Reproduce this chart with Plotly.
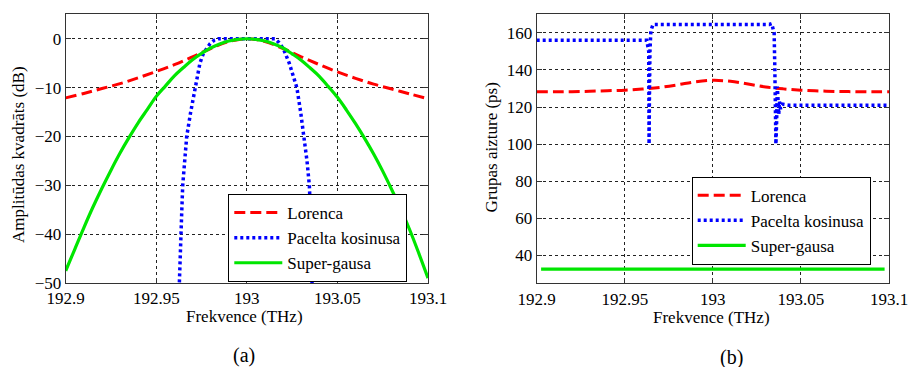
import plotly.graph_objects as go

W, H = 911, 367

# ---------------- data (a) ----------------
lor_x = [192.90, 192.91, 192.92, 192.93, 192.94, 192.95, 192.96, 192.97, 192.98, 192.99,
         193.00, 193.01, 193.02, 193.03, 193.04, 193.05, 193.06, 193.07, 193.08, 193.09, 193.10]
lor_y = [-12.1, -11.2, -10.2, -9.2, -8.0, -6.7, -5.3, -3.7, -2.0, -0.6,
         0.0, -0.6, -2.0, -3.7, -5.3, -6.8, -8.1, -9.3, -10.3, -11.3, -12.3]

rc_x = [192.9622, 192.9630, 192.9636, 192.9641, 192.9646, 192.9656, 192.9668, 192.9690, 192.9714,
        192.9741, 192.9760, 192.9778, 192.9797, 192.9820, 192.9842, 193.0000, 193.0155,
        193.0178, 193.0201, 193.0234, 193.0276, 193.0297, 193.0316, 193.0332, 193.0345,
        193.0352, 193.0356, 193.0360, 193.0362]
rc_y = [-56, -45, -40, -35, -30, -25, -20, -15, -10,
        -5, -3, -2, -1, -0.3, 0.0, 0.0, 0.0,
        -0.8, -2, -5, -10, -15, -20, -25, -30,
        -35, -40, -50, -56]

sg_x = [192.900, 192.905, 192.910, 192.915, 192.920, 192.925, 192.930, 192.935, 192.940, 192.945,
        192.950, 192.955, 192.960, 192.965, 192.970, 192.975, 192.980, 192.985, 192.990, 192.995,
        193.000, 193.005, 193.010, 193.015, 193.020, 193.025, 193.030, 193.035, 193.040, 193.045,
        193.050, 193.055, 193.060, 193.065, 193.070, 193.075, 193.080, 193.085, 193.090, 193.095, 193.100]
sg_y = [-47.5, -43.1, -38.7, -34.5, -30.6, -26.9, -23.4, -20.2, -17.2, -14.5,
        -11.8, -9.7, -7.6, -5.9, -4.3, -3.0, -1.9, -1.08, -0.48, -0.12,
        0.0, -0.12, -0.48, -1.08, -1.9, -3.1, -4.4, -6.0, -7.7, -9.8,
        -12.0, -14.6, -17.4, -20.4, -23.6, -27.1, -30.9, -34.9, -39.2, -44.0, -49.0]

# ---------------- data (b) ----------------
gd_lor_x = lor_x
gd_lor_y = [128.2, 128.2, 128.3, 128.5, 128.8, 129.1, 129.7, 130.6, 132.0, 133.6,
            134.4, 133.9, 132.4, 130.8, 129.8, 129.1, 128.7, 128.4, 128.3, 128.2, 128.2]

gd_rc_x = [192.9000, 192.9625, 192.9636, 192.9638, 192.9640, 192.9643, 192.9648, 192.9660,
           193.0320, 193.0334, 193.0348, 193.0352, 193.0355, 193.0358, 193.0362, 193.0366,
           193.0370, 193.0374, 193.0378, 193.0384, 193.0395, 193.0430, 193.1000]
gd_rc_y = [156, 156, 150, 100, 125, 150, 161, 164.5,
           164.5, 165, 160, 140, 120, 100, 112, 131,
           124, 116, 123, 119, 121.5, 121, 121]

gd_sg_x = [192.9025, 193.0975]
gd_sg_y = [32.6, 32.6]

x_ticks = [192.9, 192.95, 193, 193.05, 193.1]
x_tick_text = ["192.9", "192.95", "193", "193.05", "193.1"]
ya_ticks = [-50, -40, -30, -20, -10, 0]
yb_ticks = [40, 60, 80, 100, 120, 140, 160]

names = ["Lorenca", "Pacelta kosinusa", "Super-gausa"]

RED, BLUE, GREEN = "#ff0000", "#0000ff", "#00e600"
FONT = "Liberation Serif"

fig = go.Figure()
fig.add_trace(go.Scatter(x=lor_x, y=lor_y, mode="lines", name=names[0], line=dict(color=RED, width=3, dash="11px,5px", shape="spline"), xaxis="x", yaxis="y", legend="legend"))
fig.add_trace(go.Scatter(x=rc_x, y=rc_y, mode="lines", name=names[1], line=dict(color=BLUE, width=3.5, dash="3px,3px"), xaxis="x", yaxis="y", legend="legend"))
fig.add_trace(go.Scatter(x=sg_x, y=sg_y, mode="lines", name=names[2], line=dict(color=GREEN, width=3.2, shape="spline"), xaxis="x", yaxis="y", legend="legend"))

fig.add_trace(go.Scatter(x=gd_lor_x, y=gd_lor_y, mode="lines", name=names[0], line=dict(color=RED, width=3, dash="11px,5px", shape="spline"), xaxis="x2", yaxis="y2", legend="legend2"))
fig.add_trace(go.Scatter(x=gd_rc_x, y=gd_rc_y, mode="lines", name=names[1], line=dict(color=BLUE, width=3.5, dash="3px,3px"), xaxis="x2", yaxis="y2", legend="legend2"))
fig.add_trace(go.Scatter(x=gd_sg_x, y=gd_sg_y, mode="lines", name=names[2], line=dict(color=GREEN, width=3.2), xaxis="x2", yaxis="y2", legend="legend2"))

def px(xp):
    return xp / W

def py(yp):
    return 1 - yp / H

axis_common = dict(showline=True, linecolor="#333", linewidth=1, mirror="ticks",
                   ticks="inside", ticklen=5, tickcolor="#333", automargin=False,
                   showgrid=True, gridcolor="#222", gridwidth=1, griddash="3px,3px",
                   zeroline=False, tickfont=dict(family=FONT, size=17, color="black"))

legend_common = dict(xanchor="left", yanchor="top", bgcolor="white", bordercolor="black",
                     borderwidth=1, font=dict(family=FONT, size=17), tracegroupgap=0, itemwidth=48)

fig.update_layout(
    template="none",
    width=W, height=H, margin=dict(l=0, r=0, t=0, b=0, pad=0), autosize=False,
    paper_bgcolor="white", plot_bgcolor="white",
    font=dict(family=FONT, size=17, color="black"),
    xaxis=dict(domain=[px(65.7), px(428)], range=[192.9, 193.1], tickvals=x_ticks, ticktext=x_tick_text, anchor="y", **axis_common),
    yaxis=dict(domain=[py(283), py(14.3)], range=[-50, 5], tickvals=ya_ticks, anchor="x", **axis_common),
    xaxis2=dict(domain=[px(536.7), px(889)], range=[192.9, 193.1], tickvals=x_ticks, ticktext=x_tick_text, anchor="y2", **axis_common),
    yaxis2=dict(domain=[py(283.3), py(14.3)], range=[25, 170], tickvals=yb_ticks, anchor="x2", **axis_common),
    legend=dict(x=px(228.3), y=py(194), **legend_common),
    legend2=dict(x=px(691.7), y=py(176.7), **legend_common),
    showlegend=True,
)

annos = [
    dict(text="Frekvence (THz)", x=px(244.7), y=py(316), size=17, angle=0),
    dict(text="Frekvence (THz)", x=px(711.3), y=py(317.5), size=17, angle=0),
    dict(text="Amplitūdas kvadrāts (dB)", x=px(18), y=py(155), size=17, angle=-90),
    dict(text="Grupas aizture (ps)", x=px(491.7), y=py(147.7), size=17, angle=-90),
    dict(text="(a)", x=px(244), y=py(355), size=20, angle=0),
    dict(text="(b)", x=px(731.7), y=py(357), size=20, angle=0),
]
for a in annos:
    fig.add_annotation(text=a["text"], x=a["x"], y=a["y"], xref="paper", yref="paper",
                       xanchor="center", yanchor="middle", showarrow=False, textangle=a["angle"],
                       font=dict(family=FONT, size=a["size"], color="black"))

fig.write_html("out.html", config={"displayModeBar": False},
               post_script="document.body.style.margin='0';document.body.style.overflow='hidden';")
